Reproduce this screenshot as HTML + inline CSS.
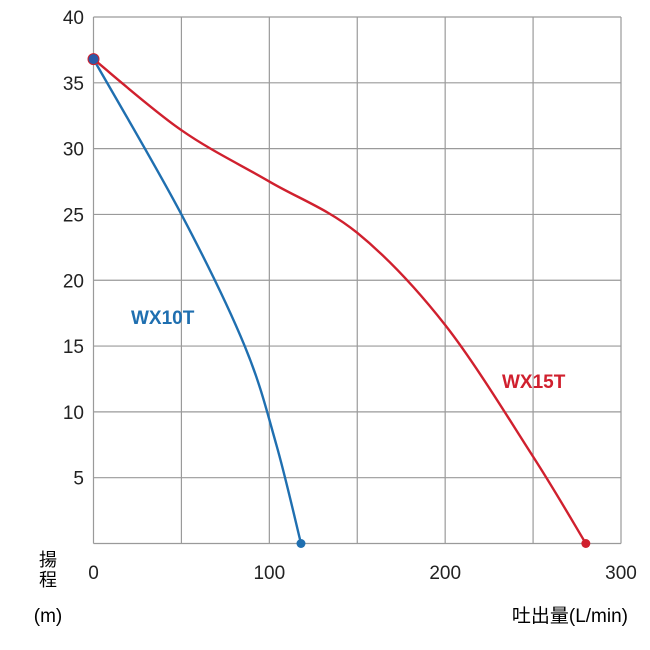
<!DOCTYPE html>
<html><head><meta charset="utf-8"><style>
html,body{margin:0;padding:0;background:#fff;width:650px;height:650px;overflow:hidden}
svg text{font-family:"Liberation Sans","Noto Sans CJK JP",sans-serif}
</style></head><body>
<svg id="chart" width="650" height="650" viewBox="0 0 650 650" xmlns="http://www.w3.org/2000/svg">
<g id="grid"></g>
<g id="yticks"></g>
<g id="xticks"></g>
<g id="series"></g>
<text x="48" y="566" font-size="18" text-anchor="middle">揚</text>
<text x="48" y="586" font-size="18" text-anchor="middle">程</text>
<text x="48" y="622" font-size="19" text-anchor="middle">(m)</text>
<text x="628" y="622" font-size="19" text-anchor="end">吐出量(L/min)</text>
<text x="131" y="324" font-size="19" font-weight="bold" fill="#1f6fb0">WX10T</text>
<text x="502" y="388" font-size="19" font-weight="bold" fill="#d0202e">WX15T</text>
</svg>
<script>
const xTicks=[0,100,200,300];
const xGrid=[0,50,100,150,200,250,300];
const yTicks=[5,10,15,20,25,30,35,40];
const wx10tFlow=[0,50,86,104,118];
const wx10tHead=[36.8,25,15,7.5,0];
const wx15tFlow=[0,50,100,150,200,250,280];
const wx15tHead=[36.8,31.4,27.5,23.6,16.6,6.6,0];
const X=v=>93.5+v*(621-93.5)/300;
const Y=v=>543.5-v*(543.5-17)/40;
const NS="http://www.w3.org/2000/svg";
function mk(tag,attrs,parent){const e=document.createElementNS(NS,tag);for(const k in attrs)e.setAttribute(k,attrs[k]);parent.appendChild(e);return e;}
const grid=document.getElementById('grid');
xGrid.forEach(v=>{const l=mk('line',{x1:X(v),x2:X(v),y1:Y(40),y2:Y(0),stroke:'#9a9a9a','stroke-width':1.2},grid);

});
[0].concat(yTicks).forEach(v=>{const l=mk('line',{x1:X(0),x2:X(300),y1:Y(v),y2:Y(v),stroke:'#9a9a9a','stroke-width':1.2},grid);

});
const yt=document.getElementById('yticks');
yTicks.forEach(v=>{const t=mk('text',{x:84,y:Y(v)+7,'font-size':19,'text-anchor':'end',fill:'#222'},yt);t.textContent=v;

});
const xt=document.getElementById('xticks');
xTicks.forEach(v=>{const t=mk('text',{x:X(v),y:579,'font-size':19,'text-anchor':'middle',fill:'#222'},xt);t.textContent=v;

});
function path(xs,ys){const p=xs.map((x,i)=>[X(x),Y(ys[i])]);let d='M'+p[0][0]+','+p[0][1];
for(let i=0;i<p.length-1;i++){const p0=p[Math.max(0,i-1)],p1=p[i],p2=p[i+1],p3=p[Math.min(p.length-1,i+2)];
const c1=[p1[0]+(p2[0]-p0[0])/6,p1[1]+(p2[1]-p0[1])/6],c2=[p2[0]-(p3[0]-p1[0])/6,p2[1]-(p3[1]-p1[1])/6];
d+=' C'+c1+' '+c2+' '+p2;}return d;}
const s=document.getElementById('series');
const r=mk('path',{d:path(wx15tFlow,wx15tHead),fill:'none',stroke:'#d0202e','stroke-width':2.4},s);


const b=mk('path',{d:path(wx10tFlow,wx10tHead),fill:'none',stroke:'#1f6fb0','stroke-width':2.4},s);


const e1=mk('circle',{cx:X(wx15tFlow[wx15tFlow.length-1]),cy:Y(wx15tHead[wx15tHead.length-1]),r:4.5,fill:'#d0202e'},s);


const e2=mk('circle',{cx:X(wx10tFlow[wx10tFlow.length-1]),cy:Y(wx10tHead[wx10tHead.length-1]),r:4.5,fill:'#1f6fb0'},s);


const e3=mk('circle',{cx:X(wx10tFlow[0]),cy:Y(wx10tHead[0]),r:5.5,fill:'#2a5aa8',stroke:'#d0202e','stroke-width':1},s);


</script>
</body></html>
